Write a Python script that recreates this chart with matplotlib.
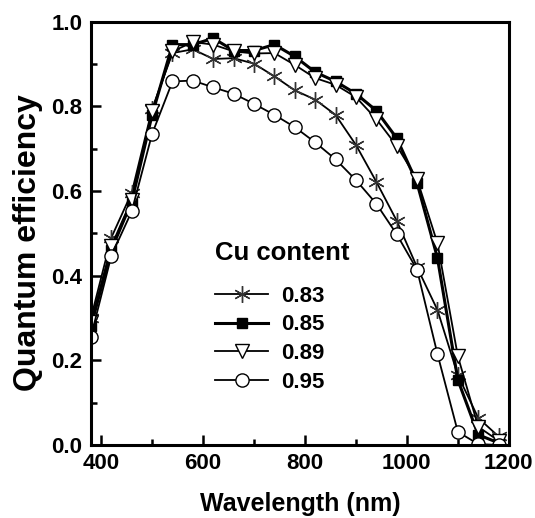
import numpy as np
import matplotlib.pyplot as plt
from matplotlib.ticker import MultipleLocator

plt.rcParams['font.family'] = ['Liberation Sans', 'DejaVu Sans']
plt.rcParams['font.weight'] = 'bold'

# wavelength grid of the measured points (nm)
wl = [380, 420, 460, 500, 540, 580, 620, 660, 700, 740, 780,
      820, 860, 900, 940, 980, 1020, 1060, 1100, 1140, 1180]

# quantum efficiency for each Cu content
qe_083 = [0.30, 0.49, 0.596, 0.794, 0.926, 0.935, 0.912, 0.914, 0.901, 0.871, 0.838,
          0.816, 0.780, 0.709, 0.622, 0.530, 0.420, 0.319, 0.165, 0.064, 0.020]
qe_085 = [0.28, 0.461, 0.575, 0.78, 0.946, 0.946, 0.961, 0.932, 0.932, 0.946, 0.918,
          0.881, 0.859, 0.830, 0.790, 0.725, 0.619, 0.442, 0.154, 0.024, 0.005]
qe_089 = [0.29, 0.47, 0.58, 0.79, 0.93, 0.952, 0.946, 0.93, 0.925, 0.926, 0.898,
          0.867, 0.851, 0.822, 0.770, 0.707, 0.628, 0.477, 0.21, 0.043, 0.01]
qe_095 = [0.256, 0.447, 0.552, 0.735, 0.859, 0.861, 0.845, 0.830, 0.806, 0.780, 0.751,
          0.715, 0.675, 0.626, 0.570, 0.498, 0.414, 0.215, 0.031, 0.002, 0.0]

labels = ['0.83', '0.85', '0.89', '0.95']

fig = plt.figure(figsize=(5.35, 5.18), dpi=100)
ax = fig.add_axes([0.170, 0.141, 0.781, 0.817])

ax.plot(wl, qe_083, color='black', lw=1.3, marker=(6, 2, 0), ms=12,
        mec='#333333', mew=1.0, label=labels[0])
ax.plot(wl, qe_085, color='black', lw=2.2, marker='s', ms=7.5,
        mfc='black', mec='black', label=labels[1])
ax.plot(wl, qe_089, color='black', lw=1.3, marker='v', ms=10,
        mfc='white', mec='black', mew=1.0, label=labels[2])
ax.plot(wl, qe_095, color='black', lw=1.3, marker='o', ms=9.5,
        mfc='white', mec='black', mew=1.0, label=labels[3])

ax.set_xlim(380, 1200)
ax.set_ylim(0, 1.0)
ax.xaxis.set_major_locator(MultipleLocator(200))
ax.xaxis.set_minor_locator(MultipleLocator(100))
ax.yaxis.set_major_locator(MultipleLocator(0.2))
ax.yaxis.set_minor_locator(MultipleLocator(0.1))
ax.yaxis.set_major_formatter(plt.FormatStrFormatter('%.1f'))

ax.tick_params(which='both', direction='in', width=1.8, labelsize=16, pad=6)
ax.tick_params(which='major', length=7)
ax.tick_params(which='minor', length=4)
for s in ax.spines.values():
    s.set_linewidth(2.2)

ax.set_xlabel('Wavelength (nm)', fontsize=18, fontweight='bold', labelpad=13)
ax.set_ylabel('Quantum efficiency', fontsize=23, fontweight='bold')
ax.yaxis.set_label_coords(-0.115, 0.478)

leg = ax.legend(loc='center left', bbox_to_anchor=(0.402, 0.345),
                bbox_transform=fig.transFigure, frameon=False, fontsize=16,
                handlelength=2.4, handletextpad=0.55, labelspacing=0.35,
                borderpad=0, borderaxespad=0)
fig.text(0.402, 0.512, 'Cu content', fontsize=18.5, fontweight='bold',
         ha='left', va='center')

fig.savefig('out.png', dpi=100)
